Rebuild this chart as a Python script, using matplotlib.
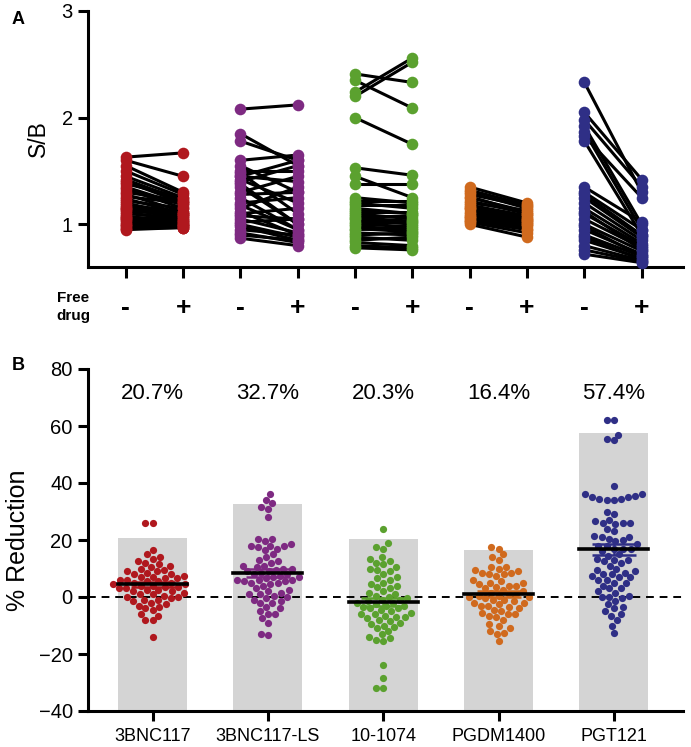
import matplotlib
matplotlib.use('Agg')
import matplotlib.pyplot as plt
import numpy as np

plt.rcParams['font.family'] = ['Liberation Sans', 'DejaVu Sans']

# ---------------- data ----------------
antibodies = ['3BNC117', '3BNC117-LS', '10-1074', 'PGDM1400', 'PGT121']
colors = ['#B0181E', '#7E2A82', '#5BA12F', '#D06A1E', '#2F2F86']
reduction_pct = [20.7, 32.7, 20.3, 16.4, 57.4]
pct_labels = ['20.7%', '32.7%', '20.3%', '16.4%', '57.4%']

# Panel A: S/B without (-) and with (+) free drug, paired
sb_minus_3BNC117 = [1.63, 1.60, 1.55, 1.50, 1.45, 1.42, 1.40, 1.38, 1.35, 1.33, 1.30, 1.28,
                    1.26, 1.24, 1.22, 1.20, 1.18, 1.16, 1.15, 1.13, 1.12, 1.10, 1.08, 1.07,
                    1.05, 1.04, 1.02, 1.00, 0.99, 0.98, 0.97, 0.96, 0.95, 1.14, 1.06]
sb_plus_3BNC117 = [1.67, 1.45, 1.30, 1.28, 1.25, 1.22, 1.20, 1.25, 1.18, 1.15, 1.22, 1.12,
                   1.20, 1.10, 1.15, 1.08, 1.12, 1.10, 1.05, 1.08, 1.02, 1.06, 1.00, 1.04,
                   1.02, 0.99, 1.00, 0.98, 0.97, 0.99, 0.98, 0.97, 0.97, 1.10, 1.03]
sb_minus_3BNC117LS = [2.08, 1.85, 1.78, 1.60, 1.55, 1.50, 1.48, 1.45, 1.42, 1.40, 1.35, 1.30,
                      1.25, 1.20, 1.15, 1.12, 1.10, 1.05, 1.02, 1.00, 0.98, 0.95, 0.92, 0.90,
                      0.87, 1.45, 1.38, 1.28, 1.18, 1.08]
sb_plus_3BNC117LS = [2.12, 1.55, 1.60, 1.65, 1.30, 1.50, 1.10, 1.40, 1.20, 1.55, 1.00, 1.45,
                     0.95, 1.25, 1.35, 0.90, 1.15, 0.92, 1.05, 0.88, 0.85, 0.90, 0.83, 0.85,
                     0.80, 1.60, 1.00, 1.30, 0.95, 1.05]
sb_minus_10_1074 = [2.41, 2.35, 2.24, 2.20, 2.00, 1.53, 1.45, 1.38, 1.25, 1.22, 1.20, 1.18,
                    1.15, 1.12, 1.10, 1.08, 1.05, 1.02, 1.00, 0.98, 0.95, 0.92, 0.90, 0.88,
                    0.85, 0.83, 0.80, 0.78, 1.13, 1.06, 0.96]
sb_plus_10_1074 = [2.33, 2.09, 2.56, 2.52, 1.75, 1.46, 1.25, 1.38, 1.20, 1.22, 1.15, 1.18,
                   1.10, 1.12, 1.05, 1.08, 1.00, 1.02, 0.98, 0.95, 0.97, 0.90, 0.92, 0.85,
                   0.88, 0.80, 0.78, 0.76, 1.10, 1.03, 0.93]
sb_minus_PGDM1400 = [1.35, 1.32, 1.30, 1.28, 1.25, 1.22, 1.20, 1.18, 1.16, 1.14, 1.12, 1.10,
                     1.08, 1.06, 1.04, 1.02, 1.00, 1.26, 1.15, 1.07, 1.03]
sb_plus_PGDM1400 = [1.20, 1.18, 1.15, 1.17, 1.12, 1.10, 1.13, 1.08, 1.06, 1.05, 1.03, 1.02,
                    1.00, 0.98, 0.96, 0.92, 0.88, 1.10, 1.04, 1.00, 0.95]
sb_minus_PGT121 = [2.33, 2.05, 1.98, 1.92, 1.87, 1.83, 1.78, 1.35, 1.30, 1.25, 1.20, 1.15,
                   1.10, 1.05, 1.00, 0.95, 0.90, 0.85, 0.80, 0.76, 0.72, 1.28, 1.12, 0.98, 0.88]
sb_plus_PGT121 = [1.30, 1.42, 1.35, 1.00, 0.95, 1.25, 0.90, 1.02, 0.95, 0.88, 0.85, 0.82,
                  0.80, 0.78, 0.75, 0.72, 0.70, 0.68, 0.66, 0.65, 0.64, 0.90, 0.76, 0.70, 0.67]

sb_minus = [sb_minus_3BNC117, sb_minus_3BNC117LS, sb_minus_10_1074, sb_minus_PGDM1400, sb_minus_PGT121]
sb_plus = [sb_plus_3BNC117, sb_plus_3BNC117LS, sb_plus_10_1074, sb_plus_PGDM1400, sb_plus_PGT121]

# Panel B: % reduction per sample
red_3BNC117 = [26, 26, 16.5, 15, 14, 13.5, 12.5, 12, 11.5, 11, 10.5, 10, 9.5, 9, 9, 8.5, 8, 8,
               7.5, 7, 7, 6.5, 6.5, 6, 6, 5.5, 5.5, 5, 5, 4.5, 4.5, 4, 4, 3.5, 3.5, 3, 3, 2.5,
               2.5, 2, 2, 1.5, 1, 1, 0.5, 0, 0, -0.5, -1, -1, -1.5, -2, -2.5, -3, -3.5, -4,
               -4.5, -6, -6.5, -8, -8, -14]
red_3BNC117LS = [36, 34, 33, 31, 31.5, 28, 20.5, 20.5, 19.5, 18.5, 18, 18, 18, 17.5, 17, 16.5,
                 15, 14, 13, 12.5, 12, 11, 11, 10.5, 10, 10, 9.5, 9, 9, 8.5, 8, 8, 7.5, 7, 7,
                 6.5, 6, 6, 6, 5.5, 5.5, 5, 5, 4.5, 4, 3, 2.5, 2, 1.5, 1, 1, 0.5, 0, -0.5, -1,
                 -1.5, -2, -2, -3.5, -4, -5, -6, -6, -7.5, -9, -13, -13.5]
red_10_1074 = [24, 19, 17.5, 17, 14, 13.5, 12.5, 12, 11.5, 10.5, 10, 9.5, 9, 8, 7, 6.5, 6, 5,
               4.5, 4, 3.5, 3, 2, 1.5, 1, 0.5, 0, -0.5, -1, -1, -1.5, -2, -2, -2.5, -3, -3,
               -3.5, -4, -4, -4.5, -5, -5.5, -6, -6, -6.5, -7, -7, -7.5, -8, -8.5, -9, -9.5,
               -10, -10.5, -11, -12, -13, -14, -14.5, -15, -15.5, -24, -28.5, -32, -32]
red_PGDM1400 = [17.5, 17, 15, 14, 13, 10.5, 10.5, 10, 9.5, 9, 8.5, 8.5, 8, 8, 7.5, 6, 5.5, 5,
                5, 4.5, 4, 4, 3.5, 3, 2.5, 2, 1.5, 1, 1, 0.5, 0.5, 0, 0, -0.5, -1, -1, -1.5,
                -2, -2, -2.5, -3, -3, -3.5, -4, -4.5, -5, -5.5, -6, -6, -6.5, -7, -8, -9.5,
                -10, -11, -12, -12.5, -13, -15.5]
red_PGT121 = [62, 62, 57, 55.5, 55, 39, 36, 36, 35.5, 35, 35, 34.5, 34.5, 34, 34, 30, 29, 27,
              26.5, 26, 26, 26, 25.5, 24, 23, 21.5, 21, 21, 20.5, 20, 19.5, 18.5, 18, 18, 17,
              17, 17, 16, 15, 14.5, 13.5, 13, 13, 12.5, 12, 11, 10, 9.5, 9, 8.5, 8, 8, 7.5, 7,
              7, 6, 6, 5, 5, 4, 3, 3, 2, 1.5, 0.5, 0, 0, -0.5, -1.5, -2.5, -3.5, -4, -5, -6,
              -6.5, -8, -10, -12.5]
reductions = [red_3BNC117, red_3BNC117LS, red_10_1074, red_PGDM1400, red_PGT121]

# ---------------- figure ----------------
W, H = 691, 747
fig = plt.figure(figsize=(W / 100, H / 100), dpi=100)


def axes_px(left, top, right, bottom):
    return fig.add_axes([left / W, 1 - bottom / H, (right - left) / W, (bottom - top) / H])


def style(ax):
    for s in ['top', 'right']:
        ax.spines[s].set_visible(False)
    for s in ['left', 'bottom']:
        ax.spines[s].set_linewidth(2.2)
    ax.tick_params(width=2.2, length=7, labelsize=14.5, pad=4)


# ---- Panel A ----
axA = axes_px(88, 11, 683, 267)
style(axA)
axA.set_xlim(0.34, 10.72)
axA.set_ylim(0.6, 3.0)
axA.set_yticks([1, 2, 3])
xt = []
for k in range(5):
    x0, x1 = 2 * k + 1, 2 * k + 2
    xt += [x0, x1]
    for m, p in zip(sb_minus[k], sb_plus[k]):
        axA.plot([x0, x1], [m, p], color='black', lw=2.2, zorder=2, clip_on=False)
    axA.scatter([x0] * len(sb_minus[k]), sb_minus[k], s=70, color=colors[k], zorder=3,
                linewidths=0, clip_on=False)
    axA.scatter([x1] * len(sb_plus[k]), sb_plus[k], s=70, color=colors[k], zorder=3,
                linewidths=0, clip_on=False)
axA.set_xticks(xt)
axA.set_xticklabels([])
axA.tick_params(axis='x', length=8)
for i, x in enumerate(xt):
    axA.text(x, -0.16, '-' if i % 2 == 0 else '+', transform=axA.get_xaxis_transform(),
             ha='center', va='center', fontsize=19, fontweight='bold')
axA.set_ylabel('S/B', fontsize=16.5, labelpad=8)
fig.text(73 / W, 1 - 307 / H, 'Free\ndrug', ha='center', va='center', fontsize=11,
         fontweight='bold', linespacing=1.3)
fig.text(12 / W, 1 - 20 / H, 'A', ha='left', va='center', fontsize=13, fontweight='bold')

# ---- Panel B ----
axB = axes_px(88, 369, 683, 711)
style(axB)
xlB = (0.44, 5.6)
ylB = (-40, 80)
axB.set_xlim(*xlB)
axB.set_ylim(*ylB)
axB.set_yticks(np.arange(-40, 81, 20))
pos = np.arange(1, 6)
axB.set_xticks(pos)
axB.set_xticklabels(antibodies, fontsize=13)
axB.tick_params(axis='x', pad=5)

xs = 595 / (xlB[1] - xlB[0])
ys = 342 / (ylB[1] - ylB[0])


def swarm_offsets(vals, d):
    vals = np.asarray(vals, float)
    order = np.argsort(vals, kind='stable')
    placed = []
    offs = np.zeros(len(vals))
    for i in order:
        y = vals[i] * ys
        cands = [0.0]
        for px, py in placed:
            dy = abs(py - y)
            if dy < d:
                dx = np.sqrt(d * d - dy * dy)
                cands += [px + dx, px - dx]
        cands = sorted(cands, key=lambda c: (abs(c), c))
        for c in cands:
            if all((c - px) ** 2 + (y - py) ** 2 >= d * d - 1e-6 for px, py in placed):
                break
        placed.append((c, y))
        offs[i] = c / xs
    return offs


axB.bar(pos, [r - ylB[0] for r in reduction_pct], bottom=ylB[0], width=0.6,
        color='#D4D4D4', zorder=1)
axB.axhline(0, color='black', lw=1.4, ls=(0, (4, 3)), zorder=2)
for k in range(5):
    v = np.asarray(reductions[k], float)
    off = swarm_offsets(v, 7.3)
    axB.scatter(pos[k] + off, v, s=27, color=colors[k], linewidths=0, zorder=3)
    mean = v.mean()
    sem = v.std(ddof=1) / np.sqrt(len(v))
    axB.plot([pos[k] - 0.3, pos[k] + 0.3], [mean, mean], color='black', lw=2.6, zorder=5)
    axB.errorbar(pos[k], mean, yerr=sem, color=colors[k], capsize=16, elinewidth=1.8,
                 capthick=1.8, zorder=4)
    axB.text(pos[k], 71.5, pct_labels[k], ha='center', va='center', fontsize=16)
axB.set_ylabel('% Reduction', fontsize=18, labelpad=6)
fig.text(12 / W, 1 - 365 / H, 'B', ha='left', va='center', fontsize=13, fontweight='bold')

fig.savefig('out.png', dpi=100)
